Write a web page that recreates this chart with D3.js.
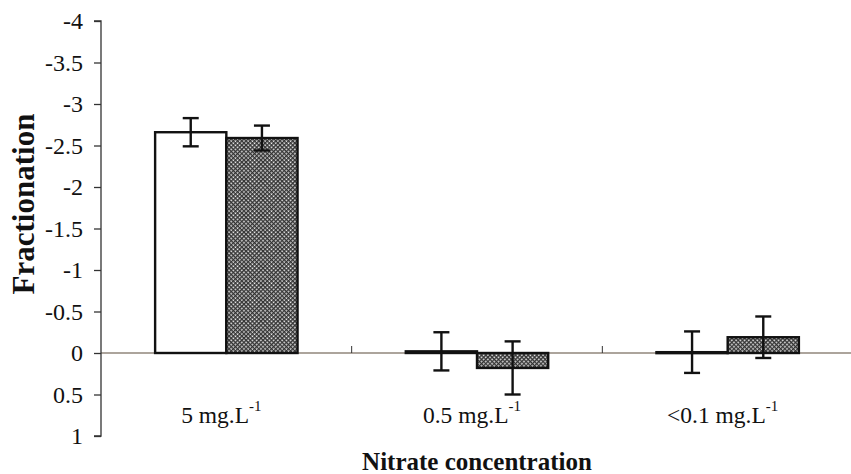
<!DOCTYPE html>
<html>
<head>
<meta charset="utf-8">
<script src="https://cdnjs.cloudflare.com/ajax/libs/d3/7.8.5/d3.min.js"></script>
<style>
  html, body { margin: 0; padding: 0; background: #fff; }
  svg { display: block; }
  text { font-family: "Liberation Serif", "Times New Roman", serif; fill: #111; }
</style>
</head>
<body>
<svg id="chart" width="851" height="474"></svg>
<script>
// Nitrate concentration groups and the two series of fractionation values
const categories = ["5 mg.L", "0.5 mg.L", "<0.1 mg.L"];
const series = ["open", "hatched"];
const openValues = [-2.66, -0.02, -0.01];
const openErrors = [0.17, 0.23, 0.25];
const hatchedValues = [-2.59, 0.18, -0.19];
const hatchedErrors = [0.15, 0.32, 0.25];
const yTicks = [-4, -3.5, -3, -2.5, -2, -1.5, -1, -0.5, 0, 0.5, 1];

const svg = d3.select("#chart");
const W = 851;
const axisX = 101, plotTop = 21, plotBottom = 436;

// Reversed axis: negative values go up
const y = d3.scaleLinear().domain([-4, 1]).range([plotTop, plotBottom]);
const x = d3.scaleBand().domain(categories).range([axisX, 853]).paddingInner(0).paddingOuter(0);
const xs = d3.scaleBand().domain(series).range([0, x.bandwidth()]).paddingInner(0).paddingOuter(0.76);

// Fill pattern for the second series
const defs = svg.append("defs");
const pat = defs.append("pattern")
  .attr("id", "hatch").attr("patternUnits", "userSpaceOnUse")
  .attr("width", 3).attr("height", 3)
  .attr("patternTransform", "rotate(45)");
pat.append("rect").attr("width", 3).attr("height", 3).attr("fill", "#f2f2f2");
pat.append("rect").attr("width", 1.4).attr("height", 3).attr("fill", "#333");
pat.append("rect").attr("width", 3).attr("height", 1.4).attr("fill", "#333");

// Zero line
svg.append("line")
  .attr("x1", axisX).attr("x2", W)
  .attr("y1", y(0)).attr("y2", y(0))
  .attr("stroke", "#5a4a3a").attr("stroke-width", 1.1);

// Category separators along the zero line
svg.selectAll(".cat-tick").data(categories.slice(1)).join("line")
  .attr("class", "cat-tick")
  .attr("x1", d => x(d)).attr("x2", d => x(d))
  .attr("y1", y(0)).attr("y2", y(0) - 7)
  .attr("stroke", "#333").attr("stroke-width", 1);

// Y axis
const yAxis = d3.axisLeft(y).tickValues(yTicks).tickSize(7).tickPadding(11)
  .tickFormat(d => String(d));
const gy = svg.append("g").attr("transform", `translate(${axisX},0)`).call(yAxis);
gy.select(".domain").attr("stroke", "#333").attr("stroke-width", 1.3)
  .attr("d", `M-7,${y(-4)}H0V${y(1)}H-7`);
gy.selectAll(".tick line").attr("stroke", "#333").attr("stroke-width", 1.3);
gy.selectAll(".tick text")
  .style("font-family", '"Liberation Serif", "Times New Roman", serif')
  .style("font-size", "24px").attr("fill", "#111");

// Bar data
const rows = categories.map((c, i) => [
  { cat: c, s: "open", v: openValues[i], e: openErrors[i] },
  { cat: c, s: "hatched", v: hatchedValues[i], e: hatchedErrors[i] }
]).flat();

const bars = svg.append("g");
bars.selectAll("rect").data(rows).join("rect")
  .attr("x", d => x(d.cat) + xs(d.s))
  .attr("width", xs.bandwidth())
  .attr("y", d => Math.min(y(d.v), y(0)))
  .attr("height", d => Math.max(Math.abs(y(d.v) - y(0)), 1))
  .attr("fill", d => d.s === "open" ? "#fff" : "url(#hatch)")
  .attr("stroke", "#111").attr("stroke-width", 2.4);

// Error bars
const err = svg.append("g").attr("stroke", "#111").attr("stroke-width", 2.4);
const cx = d => x(d.cat) + xs(d.s) + xs.bandwidth() / 2;
err.selectAll(".stem").data(rows).join("line")
  .attr("x1", cx).attr("x2", cx)
  .attr("y1", d => y(d.v - d.e)).attr("y2", d => y(d.v + d.e));
err.selectAll(".capT").data(rows).join("line")
  .attr("x1", d => cx(d) - 8).attr("x2", d => cx(d) + 8)
  .attr("y1", d => y(d.v - d.e)).attr("y2", d => y(d.v - d.e));
err.selectAll(".capB").data(rows).join("line")
  .attr("x1", d => cx(d) - 8).attr("x2", d => cx(d) + 8)
  .attr("y1", d => y(d.v + d.e)).attr("y2", d => y(d.v + d.e));

// Category labels with superscript unit exponent
const catLabels = svg.append("g");
categories.forEach(c => {
  const t = catLabels.append("text")
    .attr("x", x(c) + x.bandwidth() / 2 - 5)
    .attr("y", 423)
    .attr("text-anchor", "middle")
    .style("font-size", "23.5px");
  t.append("tspan").text(c);
  t.append("tspan").attr("dy", -12).style("font-size", "15px").text("-1");
});

// Axis titles
svg.append("text")
  .attr("x", 477).attr("y", 470)
  .attr("text-anchor", "middle")
  .style("font-size", "25px").style("font-weight", "bold")
  .text("Nitrate concentration");

svg.append("text")
  .attr("transform", `translate(34,204) rotate(-90)`)
  .attr("text-anchor", "middle")
  .style("font-size", "31px").style("font-weight", "bold")
  .text("Fractionation");
</script>
</body>
</html>
